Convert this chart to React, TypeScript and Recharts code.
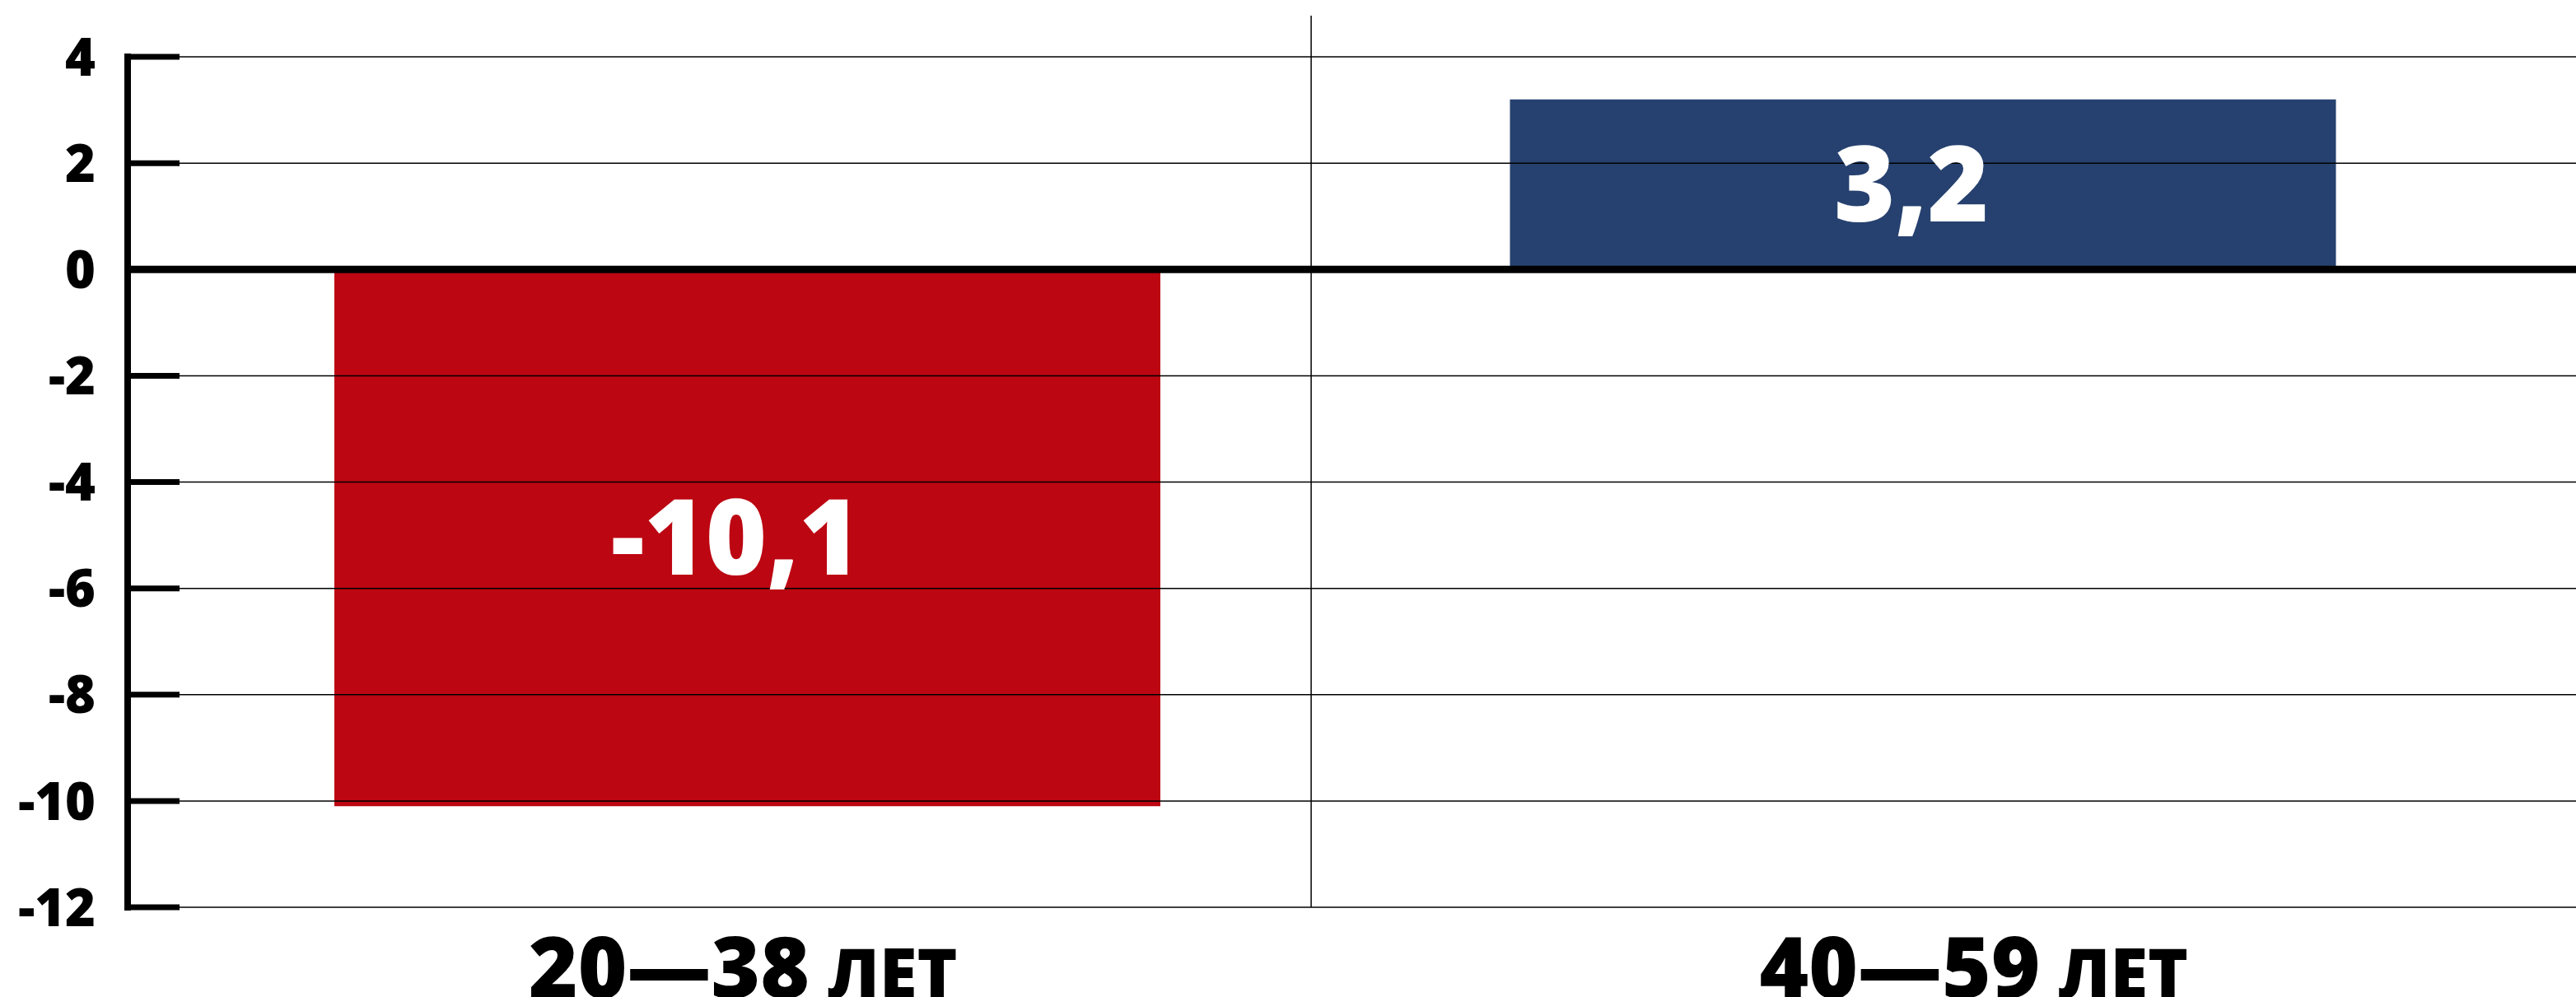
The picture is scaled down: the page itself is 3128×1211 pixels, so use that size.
import { BarChart, Bar, Cell, XAxis, YAxis, ReferenceLine, LabelList } from 'recharts'

const categories = ['20—38 лет', '40—59 лет']
const values = [-10.1, 3.2]
const barColors = ['#BC0612', '#26416F']
const yTicks = [-12, -10, -8, -6, -4, -2, 0, 2, 4]

const FONT = "'Open Sans', 'DejaVu Sans', sans-serif"

const chartData = categories.map((name, i) => ({ name, value: values[i] }))

function YTick(props: any) {
  const { x, y, payload } = props
  return (
    <g>
      <line x1={x} x2={x + 63} y1={y} y2={y} stroke="#000" strokeWidth={7} />
      <text
        x={x - 39}
        y={y}
        dy="0.36em"
        textAnchor="end"
        fontFamily={FONT}
        fontWeight={800}
        fontSize={63}
        fill="#000"
      >
        {String(payload.value)}
      </text>
    </g>
  )
}

function XTick(props: any) {
  const { x, y, payload } = props
  const [num, word] = String(payload.value).split(' ')
  return (
    <text
      x={x}
      y={y + 80}
      textAnchor="middle"
      fontFamily={FONT}
      fontWeight={800}
      fontSize={102}
      fill="#000"
    >
      {num}
      <tspan fontSize={83}> {word.toUpperCase()}</tspan>
    </text>
  )
}

const formatValue = (v: any) => Number(v).toFixed(1).replace('.', ',')

export default function App() {
  return (
    <div style={{ position: 'absolute', left: 0, top: 0, background: '#fff' }}>
      <BarChart
        width={3128}
        height={1211}
        data={chartData}
        margin={{ top: 19, right: -16, bottom: 0, left: 0 }}
      >
        <XAxis
          xAxisId="cat"
          dataKey="name"
          height={109}
          axisLine={false}
          tickLine={false}
          tickSize={0}
          tickMargin={0}
          tick={<XTick />}
          interval={0}
        />
        <XAxis xAxisId="bars" dataKey="name" hide padding={{ left: 39, right: 95 }} />
        <XAxis xAxisId="frame" type="number" domain={[0, 1]} allowDataOverflow hide />
        <YAxis
          width={155}
          domain={[-12, 4.775]}
          ticks={yTicks}
          interval={0}
          axisLine={false}
          tickLine={false}
          tickSize={0}
          tickMargin={0}
          tick={<YTick />}
        />
        {yTicks.map((t) => (
          <ReferenceLine key={t} xAxisId="cat" y={t} stroke="#000" strokeWidth={1.5} />
        ))}
        <ReferenceLine xAxisId="frame" x={0.4808} stroke="#000" strokeWidth={1.5} />
        <Bar dataKey="value" xAxisId="bars" barSize={1003} isAnimationActive={false}>
          {chartData.map((d, i) => (
            <Cell key={d.name} fill={barColors[i]} />
          ))}
          <LabelList
            dataKey="value"
            position="center"
            formatter={formatValue}
            fill="#fff"
            fontFamily={FONT}
            fontWeight={800}
            fontSize={127}
            dx={-14}
          />
        </Bar>
        <ReferenceLine xAxisId="cat" y={0} stroke="#000" strokeWidth={9} />
        <ReferenceLine
          xAxisId="frame"
          segment={[
            { x: 0, y: 4 },
            { x: 0, y: -12 },
          ]}
          stroke="#000"
          strokeWidth={8}
          strokeLinecap="square"
        />
      </BarChart>
    </div>
  )
}
